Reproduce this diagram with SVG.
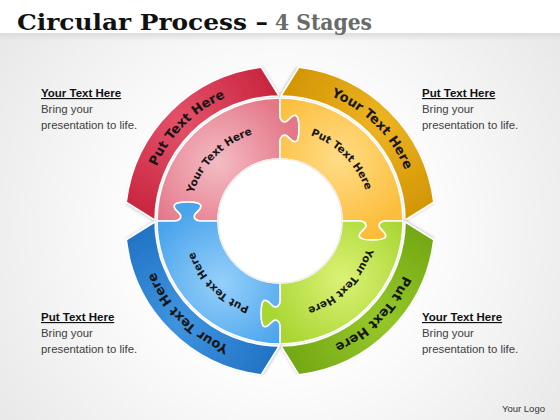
<svg xmlns="http://www.w3.org/2000/svg" xmlns:xlink="http://www.w3.org/1999/xlink" width="560" height="420" viewBox="0 0 560 420">
<style>
.title{font-family:"DejaVu Serif","Liberation Serif",serif;font-weight:bold;font-size:23px}
.head{font-family:"Liberation Sans",Arial,sans-serif;font-weight:bold;font-size:11.5px;fill:#111;text-decoration:underline}
.body{font-family:"Liberation Sans",Arial,sans-serif;font-size:11.4px;fill:#404040}
.arcO{font-family:"DejaVu Sans",Verdana,sans-serif;font-weight:bold;font-size:13px;fill:#161616}
.arcI{font-family:"DejaVu Sans",Verdana,sans-serif;font-weight:bold;font-size:10.5px;fill:#161616}
.piece{stroke:#ffffff;stroke-width:1.6;stroke-linejoin:round}
</style>
<defs>
<radialGradient id="bg" cx="280" cy="230" r="360" gradientUnits="userSpaceOnUse">
<stop offset="0.35" stop-color="#ffffff"/><stop offset="1" stop-color="#e6e6e6"/>
</radialGradient>
<linearGradient id="barShadow" x1="0" y1="0" x2="0" y2="1">
<stop offset="0" stop-color="#dcdcdc"/><stop offset="1" stop-color="#dcdcdc" stop-opacity="0"/>
</linearGradient>
<filter id="sh" x="-20%" y="-20%" width="140%" height="140%">
<feDropShadow dx="1" dy="1.5" stdDeviation="1.5" flood-color="#000" flood-opacity="0.25"/>
</filter>
<!-- band and piece drawn in the top-left quadrant, local frame centred on the ring -->
<path id="band" d="M -125 -0.87 L -153.84 -18.89 A 155 155 0 0 1 -18.89 -153.84 L -0.87 -125 A 125 125 0 0 0 -125 -0.87 Z"/>
<path id="piece" d="M -123 0 A 123 123 0 0 1 0 -123 L 0 -105.5 C 0 -100.5 3 -98.5 6 -99.5 C 10 -101.5 12 -107.5 16 -105.5 C 20 -103.5 20 -81.5 16 -79.5 C 12 -77.5 10 -83.5 6 -85.5 C 3 -86.5 0 -84.5 0 -79.5 L 0 -62 A 62 62 0 0 0 -62 0 L -79.5 0 C -84.5 0 -86.5 -3 -85.5 -6 C -83.5 -10 -77.5 -12 -79.5 -16 C -81.5 -20 -103.5 -20 -105.5 -16 C -107.5 -12 -101.5 -10 -99.5 -6 C -98.5 -3 -100.5 0 -105.5 0 Z"/>
<radialGradient id="bR" cx="-99" cy="-99" r="110" gradientUnits="userSpaceOnUse"><stop offset="0" stop-color="#e3536a"/><stop offset="1" stop-color="#c6203a"/></radialGradient>
<radialGradient id="pR" cx="-62" cy="-58" r="80" gradientUnits="userSpaceOnUse"><stop offset="0" stop-color="#f4bcc4"/><stop offset="1" stop-color="#e47788"/></radialGradient>
<radialGradient id="bO" cx="-99" cy="-99" r="110" gradientUnits="userSpaceOnUse"><stop offset="0" stop-color="#eeb424"/><stop offset="1" stop-color="#cf9200"/></radialGradient>
<radialGradient id="pO" cx="-62" cy="-58" r="80" gradientUnits="userSpaceOnUse"><stop offset="0" stop-color="#ffdc86"/><stop offset="1" stop-color="#fbbd3a"/></radialGradient>
<radialGradient id="bG" cx="-99" cy="-99" r="110" gradientUnits="userSpaceOnUse"><stop offset="0" stop-color="#96c82a"/><stop offset="1" stop-color="#6ea410"/></radialGradient>
<radialGradient id="pG" cx="-62" cy="-58" r="80" gradientUnits="userSpaceOnUse"><stop offset="0" stop-color="#dcf276"/><stop offset="1" stop-color="#a8d632"/></radialGradient>
<radialGradient id="bB" cx="-99" cy="-99" r="110" gradientUnits="userSpaceOnUse"><stop offset="0" stop-color="#3e95e0"/><stop offset="1" stop-color="#1f6fc2"/></radialGradient>
<radialGradient id="pB" cx="-62" cy="-58" r="80" gradientUnits="userSpaceOnUse"><stop offset="0" stop-color="#95d0fa"/><stop offset="1" stop-color="#4aa4ec"/></radialGradient>
<path id="tOR" d="M 145 221 A 135 135 0 0 1 280 86"/>
<path id="tOO" d="M 280 86 A 135 135 0 0 1 415 221"/>
<path id="tOG" d="M 415 221 A 135 135 0 0 1 280 356"/>
<path id="tOB" d="M 280 356 A 135 135 0 0 1 145 221"/>
<path id="tIR" d="M 189 221 A 91 91 0 0 1 280 130"/>
<path id="tIO" d="M 280 130 A 91 91 0 0 1 371 221"/>
<path id="tIG" d="M 371 221 A 91 91 0 0 1 280 312"/>
<path id="tIB" d="M 280 312 A 91 91 0 0 1 189 221"/>
</defs>

<rect width="560" height="420" fill="url(#bg)"/>
<rect width="560" height="33" fill="#ffffff"/>
<rect y="33" width="560" height="8" fill="url(#barShadow)"/>

<g id="title">
<text class="title" x="17" y="30" fill="#111111" textLength="251" lengthAdjust="spacingAndGlyphs">Circular Process –</text>
<text class="title" x="275" y="30" fill="#6a6a6a" textLength="97" lengthAdjust="spacingAndGlyphs">4 Stages</text>
</g>

<g id="stage-red">
<g transform="translate(280 221)">
<use xlink:href="#band" href="#band" class="piece" fill="url(#bR)" filter="url(#sh)"/>
<use xlink:href="#piece" href="#piece" class="piece" fill="url(#pR)"/>
</g>
<text class="arcO"><textPath href="#tOR" xlink:href="#tOR" startOffset="50%" text-anchor="middle">Put Text Here</textPath></text>
<text class="arcI"><textPath href="#tIR" xlink:href="#tIR" startOffset="50%" text-anchor="middle">Your Text Here</textPath></text>
</g>

<g id="stage-orange">
<g transform="translate(280 221) rotate(90)">
<use xlink:href="#band" href="#band" class="piece" fill="url(#bO)" filter="url(#sh)"/>
<use xlink:href="#piece" href="#piece" class="piece" fill="url(#pO)"/>
</g>
<text class="arcO"><textPath href="#tOO" xlink:href="#tOO" startOffset="50%" text-anchor="middle">Your Text Here</textPath></text>
<text class="arcI"><textPath href="#tIO" xlink:href="#tIO" startOffset="50%" text-anchor="middle">Put Text Here</textPath></text>
</g>

<g id="stage-green">
<g transform="translate(280 221) rotate(180)">
<use xlink:href="#band" href="#band" class="piece" fill="url(#bG)" filter="url(#sh)"/>
<use xlink:href="#piece" href="#piece" class="piece" fill="url(#pG)"/>
</g>
<text class="arcO"><textPath href="#tOG" xlink:href="#tOG" startOffset="50%" text-anchor="middle">Put Text Here</textPath></text>
<text class="arcI"><textPath href="#tIG" xlink:href="#tIG" startOffset="50%" text-anchor="middle">Your Text Here</textPath></text>
</g>

<g id="stage-blue">
<g transform="translate(280 221) rotate(270)">
<use xlink:href="#band" href="#band" class="piece" fill="url(#bB)" filter="url(#sh)"/>
<use xlink:href="#piece" href="#piece" class="piece" fill="url(#pB)"/>
</g>
<text class="arcO"><textPath href="#tOB" xlink:href="#tOB" startOffset="50%" text-anchor="middle">Your Text Here</textPath></text>
<text class="arcI"><textPath href="#tIB" xlink:href="#tIB" startOffset="50%" text-anchor="middle">Put Text Here</textPath></text>
</g>

<g id="hole">
<circle cx="280" cy="221" r="62" fill="#ffffff" stroke="#f0ecec" stroke-width="1.5"/>
</g>

<g id="connectors"></g>

<g id="note-tl">
<text class="head" x="41" y="97">Your Text Here</text>
<text class="body" x="41" y="113">Bring your</text>
<text class="body" x="41" y="129">presentation to life.</text>
</g>
<g id="note-tr">
<text class="head" x="422" y="97">Put Text Here</text>
<text class="body" x="422" y="113">Bring your</text>
<text class="body" x="422" y="129">presentation to life.</text>
</g>
<g id="note-bl">
<text class="head" x="41" y="321">Put Text Here</text>
<text class="body" x="41" y="337">Bring your</text>
<text class="body" x="41" y="353">presentation to life.</text>
</g>
<g id="note-br">
<text class="head" x="422" y="321">Your Text Here</text>
<text class="body" x="422" y="337">Bring your</text>
<text class="body" x="422" y="353">presentation to life.</text>
</g>

<g id="logo">
<text x="502" y="412" font-family="Liberation Sans, Arial, sans-serif" font-size="9.5" fill="#333333">Your Logo</text>
</g>
</svg>
